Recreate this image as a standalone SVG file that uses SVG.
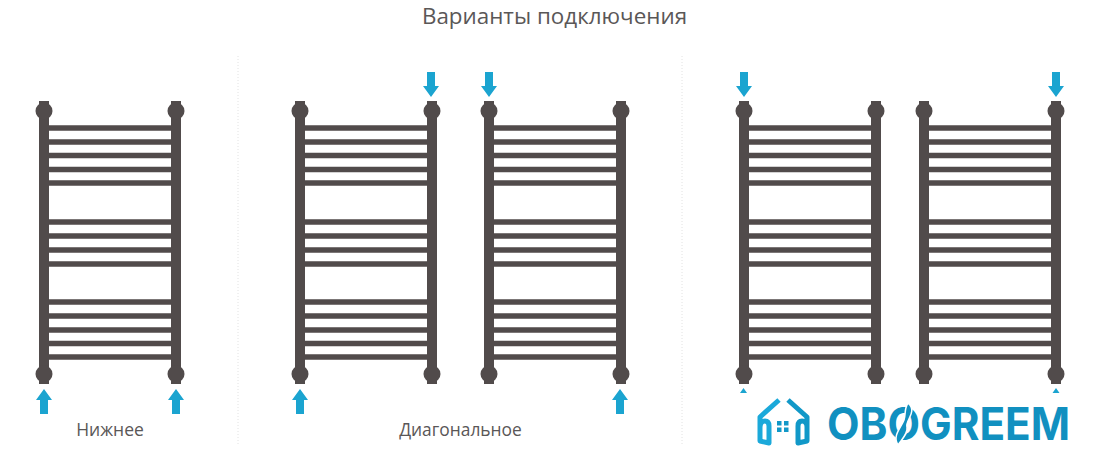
<svg xmlns="http://www.w3.org/2000/svg" width="1100" height="451" viewBox="0 0 1100 451">
<style>
.t{font-family:"Open Sans","Liberation Sans",sans-serif;fill:#5a5757;text-anchor:middle}
.bar{stroke:#514b4b;stroke-width:5.500;fill:none}
.rail{stroke:#514b4b;stroke-width:10;fill:none}
.knob{fill:#514b4b}
.arrow{fill:#1ba4d0}
.div{stroke:#e2e2e2;stroke-width:1;stroke-dasharray:1 2;fill:none}
.ic{fill:none;stroke-width:5;stroke-linejoin:round}
</style>
<defs>
<g id="kt" class="knob"><circle cy="111" r="8.500"/><rect x="-5" y="101" width="10" height="5"/></g>
<g id="kb" class="knob"><circle cy="374" r="8.500"/><rect x="-5" y="379" width="10" height="5"/></g>
<g id="towel">
<path class="rail" d="M0 110V374M132 110V374"/>
<path class="bar" d="M4 128H128M4 142H128M4 155.500H128M4 169.500H128M4 183H128M4 222H128M4 236H128M4 250H128M4 264H128M4 302H128M4 316H128M4 330H128M4 343.500H128M4 357H128"/>
<use href="#kt"/><use href="#kt" x="132"/><use href="#kb"/><use href="#kb" x="132"/>
</g>
<path id="up" class="arrow" d="M0 0L8 11H4V25H-4V11H-8Z"/>
<path id="down" class="arrow" d="M0 25L8 14H4V0H-4V14H-8Z"/>
</defs>
<rect width="1100" height="451" fill="#fff"/>
<text class="t" x="554.500" y="24" style="font-size:22.400px">Варианты подключения</text>
<g id="connectors">
<path class="div" d="M238 56V445M682 56V445"/>
<use href="#up" x="44" y="389"/>
<use href="#up" x="176" y="389"/>
<use href="#up" x="300" y="389"/>
<use href="#down" x="431" y="72"/>
<use href="#down" x="489" y="72"/>
<use href="#up" x="620" y="389"/>
<use href="#down" x="744" y="72"/>
<use href="#down" x="1056" y="72"/>
<path class="arrow" d="M743.500 388L747 393H740ZM1056 388L1059.500 393H1052.500Z"/>
</g>
<g id="towel-1"><use href="#towel" x="44"/></g>
<g id="towel-2"><use href="#towel" x="300"/></g>
<g id="towel-3"><use href="#towel" x="489"/></g>
<g id="towel-4"><use href="#towel" x="744"/></g>
<g id="towel-5"><use href="#towel" x="924"/></g>
<text class="t" x="110" y="436" font-size="17.500">Нижнее</text>
<text class="t" x="460.500" y="436" font-size="17.400">Диагональное</text>
<g id="logo">
<path class="ic" stroke="#1ba9da" d="M779 400L760 417V441L769 443V426Q769 421 765 421Q760 421 760 427"/>
<path class="ic" stroke="#1198c8" d="M788 400L807 417V441L798 443V426Q798 421 802 421Q807 421 807 427"/>
<path d="M777 421h4.500v4.500h-4.500zM784 421h4.500v4.500h-4.500zM777 427.500h4.500v4.500h-4.500zM784 427.500h4.500v4.500h-4.500z" fill="#1198c8"/>
<text x="827" y="440" font-family="Inter,Open Sans,Liberation Sans,sans-serif" font-weight="700" font-size="45" fill="#1190c0" textLength="243" lengthAdjust="spacingAndGlyphs">OBOGREEM</text>
<path d="M908 403C918 412 905 420 907 427C908 434 902 439 898 445C892 436 901 428 904 420C906 414 904 409 908 403Z" fill="#1190c0" stroke="#fff" stroke-width="1.500"/>
</g>
</svg>
